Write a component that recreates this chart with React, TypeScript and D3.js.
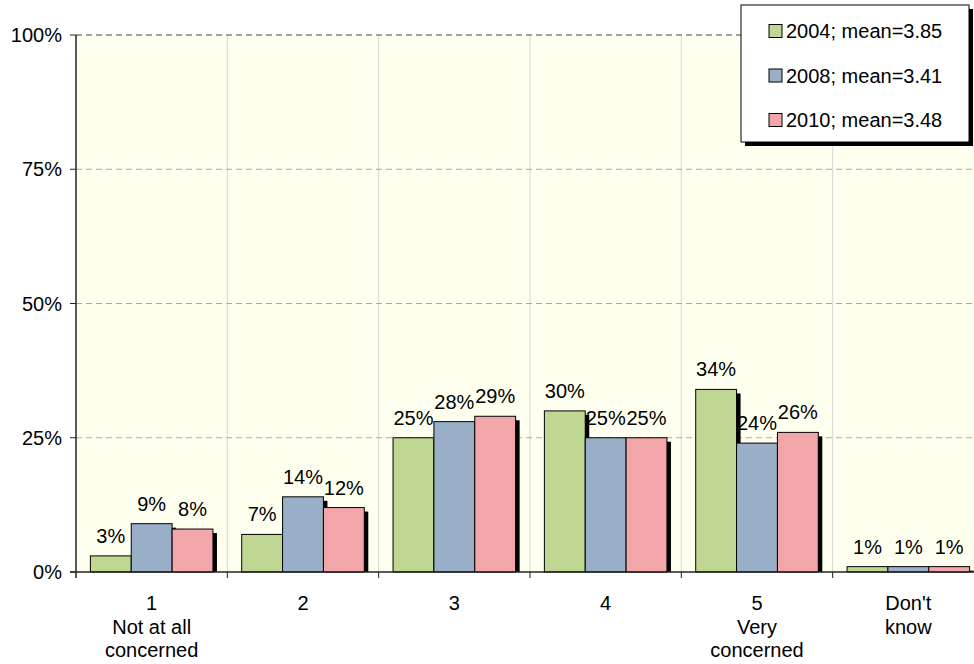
import React from "react";
import * as d3 from "d3";

const categories = ["1", "2", "3", "4", "5", "Don't know"];
const categoryLines = [
  ["1", "Not at all", "concerned"],
  ["2"],
  ["3"],
  ["4"],
  ["5", "Very", "concerned"],
  ["Don't", "know"],
];
const seriesNames = ["2004; mean=3.85", "2008; mean=3.41", "2010; mean=3.48"];
const values2004 = [3, 7, 25, 30, 34, 1];
const values2008 = [9, 14, 28, 25, 24, 1];
const values2010 = [8, 12, 29, 25, 26, 1];
const yTicks = [0, 25, 50, 75, 100];

const seriesValues = [values2004, values2008, values2010];
const colors = ["#C0D693", "#98AFC7", "#F2A6A9"];

const W = 974;
const H = 664;
const left = 76;
const right = 984;
const top = 35;
const bottom = 572;
const FONT = "Arial, 'Liberation Sans', sans-serif";
const FS = 20;

export default function App() {
  const x0 = d3.scaleBand<string>().domain(categories).range([left, right]).padding(0);
  const bw = x0.bandwidth();
  const pad = bw * 0.095;
  const x1 = d3.scaleBand<string>().domain(seriesNames).range([pad, bw - pad]).padding(0);
  const y = d3.scaleLinear().domain([0, 100]).range([bottom, top]);

  return (
    <svg
      width={W}
      height={H}
      style={{ position: "absolute", left: 0, top: 0, display: "block", background: "#fff" }}
      fontFamily={FONT}
    >
      <rect x={left} y={top} width={right - left} height={bottom - top} fill="#FFFFF0" />
      {categories.slice(1).map((c) => (
        <line key={"vg" + c} x1={x0(c)!} x2={x0(c)!} y1={top} y2={bottom} stroke="#D6D6D6" strokeWidth={1} />
      ))}
      {yTicks.slice(1).map((t) => (
        <line
          key={"hg" + t}
          x1={left}
          x2={right}
          y1={y(t)}
          y2={y(t)}
          stroke={t === 100 ? "#444" : "#A8A8A8"}
          strokeWidth={1}
          strokeDasharray="6,4"
        />
      ))}
      {categories.map((c, ci) =>
        seriesNames.map((s, si) => {
          const v = seriesValues[si][ci];
          const bx = x0(c)! + x1(s)!;
          const by = y(v);
          const w = x1.bandwidth();
          return (
            <rect key={"s" + c + s} x={bx + 4} y={by + 4} width={w} height={Math.max(0, bottom - by - 4)} fill="#000" />
          );
        })
      )}
      {categories.map((c, ci) =>
        seriesNames.map((s, si) => {
          const v = seriesValues[si][ci];
          const bx = x0(c)! + x1(s)!;
          const by = y(v);
          const w = x1.bandwidth();
          return (
            <rect key={"b" + c + s} x={bx} y={by} width={w} height={bottom - by} fill={colors[si]} stroke="#000" strokeWidth={1} />
          );
        })
      )}
      {categories.map((c, ci) =>
        seriesNames.map((s, si) => {
          const v = seriesValues[si][ci];
          const bx = x0(c)! + x1(s)!;
          const by = y(v);
          const w = x1.bandwidth();
          return (
            <text key={"t" + c + s} x={bx + w / 2} y={by - 13} textAnchor="middle" fontSize={FS} fill="#000">
              {v + "%"}
            </text>
          );
        })
      )}
      <line x1={left} x2={left} y1={top} y2={bottom + 6} stroke="#222" strokeWidth={1.5} />
      <line x1={left - 6} x2={right} y1={bottom} y2={bottom} stroke="#222" strokeWidth={1.5} />
      {yTicks.map((t) => (
        <g key={"yt" + t}>
          <line x1={left - 6} x2={left} y1={y(t)} y2={y(t)} stroke="#222" strokeWidth={1} />
          <text x={62} y={y(t) + 7} textAnchor="end" fontSize={FS} fill="#000">
            {t + "%"}
          </text>
        </g>
      ))}
      {categories.slice(1).map((c) => (
        <line key={"xt" + c} x1={x0(c)!} x2={x0(c)!} y1={bottom} y2={bottom + 6} stroke="#222" strokeWidth={1} />
      ))}
      {categories.map((c, ci) => (
        <text key={"xl" + c} textAnchor="middle" fontSize={FS} fill="#000">
          {categoryLines[ci].map((ln, li) => (
            <tspan key={li} x={x0(c)! + bw / 2} y={610 + li * 23.5}>
              {ln}
            </tspan>
          ))}
        </text>
      ))}
      <rect x={745} y={9} width={228} height={137} fill="#000" />
      <rect x={741} y={5} width={228} height={137} fill="#fff" stroke="#000" strokeWidth={1} />
      {seriesNames.map((s, si) => (
        <g key={"lg" + s}>
          <rect x={769} y={24.5 + si * 44.5} width={13} height={13} fill={colors[si]} stroke="#000" strokeWidth={1} />
          <text x={786} y={38 + si * 44.5} fontSize={FS} fill="#000">
            {s}
          </text>
        </g>
      ))}
    </svg>
  );
}
